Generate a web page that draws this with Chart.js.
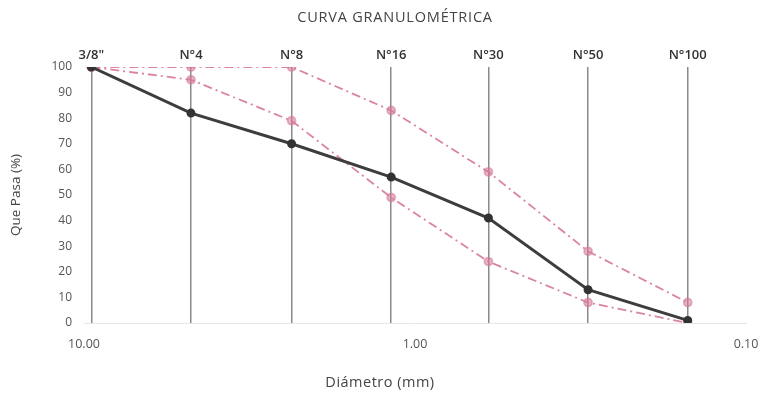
<!DOCTYPE html>
<html>
<head>
<meta charset="utf-8">
<script src="https://cdn.jsdelivr.net/npm/chart.js@4"></script>
<style>
  html, body { margin: 0; padding: 0; background: #fff; }
  #wrap { width: 759px; height: 396px; position: relative; }
</style>
</head>
<body>
<div id="wrap"><canvas id="c" width="759" height="396"></canvas></div>
<script>
const sieveNames = ['3/8"', 'N°4', 'N°8', 'N°16', 'N°30', 'N°50', 'N°100'];
const sieveSizes = [9.5, 4.75, 2.36, 1.18, 0.6, 0.3, 0.15];
const passing = [100, 82, 70, 57, 41, 13, 1];
const upperLimit = [100, 100, 100, 83, 59, 28, 8];
const lowerLimit = [100, 95, 79, 49, 24, 8, 0];
const bottomTicks = [10, 1, 0.1];
const yTicks = [0, 10, 20, 30, 40, 50, 60, 70, 80, 90, 100];

const FONT = '"Open Sans", Lato, sans-serif';
const toPts = arr => arr.map((v, i) => ({ x: sieveSizes[i], y: v }));

const pink = 'rgba(214,120,145,0.9)';
const pinkFill = 'rgba(214,120,150,0.55)';

const textPlugin = {
  id: 'texts',
  afterDraw(chart) {
    const ctx = chart.ctx;
    ctx.save();
    ctx.fillStyle = '#444';
    ctx.textAlign = 'center';
    ctx.textBaseline = 'middle';
    ctx.font = '14.5px ' + FONT;
    ctx.letterSpacing = '0.8px';
    ctx.fillText('CURVA GRANULOMÉTRICA', 395, 18);
    ctx.letterSpacing = '0.5px';
    ctx.font = '14.5px ' + FONT;
    ctx.fillText('Diámetro (mm)', 380, 383);
    ctx.restore();
  }
};

function noPad(scale) {
  scale.paddingLeft = 0;
  scale.paddingRight = 0;
}

new Chart(document.getElementById('c'), {
  type: 'line',
  data: {
    datasets: [
      {
        label: 'Muestra',
        data: toPts(passing),
        borderColor: '#3d3d3d',
        borderWidth: 3,
        pointRadius: 3,
        pointBackgroundColor: '#333',
        pointBorderColor: '#333',
        tension: 0,
        xAxisID: 'x', yAxisID: 'y'
      },
      {
        label: 'Límite superior',
        data: toPts(upperLimit),
        borderColor: pink,
        borderWidth: 1.8,
        borderDash: [9, 4, 2, 4],
        pointRadius: 4,
        pointBackgroundColor: pinkFill,
        pointBorderColor: pinkFill,
        tension: 0,
        xAxisID: 'x', yAxisID: 'y'
      },
      {
        label: 'Límite inferior',
        data: toPts(lowerLimit),
        borderColor: pink,
        borderWidth: 1.8,
        borderDash: [9, 4, 2, 4],
        pointRadius: 4,
        pointBackgroundColor: pinkFill,
        pointBorderColor: pinkFill,
        tension: 0,
        xAxisID: 'x', yAxisID: 'y'
      }
    ]
  },
  options: {
    responsive: false,
    animation: false,
    devicePixelRatio: 1,
    layout: { padding: { left: 0, right: 13, top: 0, bottom: 0 } },
    plugins: {
      legend: { display: false },
      title: { display: false },
      tooltip: { enabled: false }
    },
    scales: {
      x: {
        type: 'logarithmic',
        position: 'bottom',
        reverse: true,
        min: 0.1,
        max: 10,
        afterBuildTicks(scale) { scale.ticks = bottomTicks.map(v => ({ value: v })); },
        afterFit(scale) { scale.height = 73; noPad(scale); },
        ticks: {
          callback: v => Number(v).toFixed(2),
          color: '#555',
          font: { family: FONT, size: 12.5 },
          padding: 14,
          maxRotation: 0,
          autoSkip: false
        },
        grid: { display: false, drawTicks: false },
        border: { display: true, color: '#e6e6e6', width: 1 }
      },
      x2: {
        type: 'logarithmic',
        position: 'top',
        reverse: true,
        min: 0.1,
        max: 10,
        afterBuildTicks(scale) { scale.ticks = sieveSizes.map(v => ({ value: v })); },
        afterFit(scale) { scale.height = 67; noPad(scale); },
        ticks: {
          callback: (v, i) => sieveNames[i],
          color: '#333',
          font: { family: FONT, size: 13, weight: '600' },
          padding: 4,
          maxRotation: 0,
          autoSkip: false
        },
        grid: { display: true, color: '#8a8a8a', lineWidth: 1.5, drawTicks: false },
        border: { display: false }
      },
      y: {
        min: 0,
        max: 100,
        afterBuildTicks(scale) { scale.ticks = yTicks.map(v => ({ value: v })); },
        afterFit(scale) { scale.width = 84; },
        ticks: {
          color: '#555',
          font: { family: FONT, size: 12 },
          padding: 12
        },
        grid: { display: false, drawTicks: false },
        border: { display: false },
        title: {
          display: true,
          text: 'Que Pasa (%)',
          color: '#444',
          font: { family: FONT, size: 13.5 },
          padding: { top: 8, bottom: 4 }
        }
      }
    }
  },
  plugins: [textPlugin]
});
</script>
</body>
</html>
